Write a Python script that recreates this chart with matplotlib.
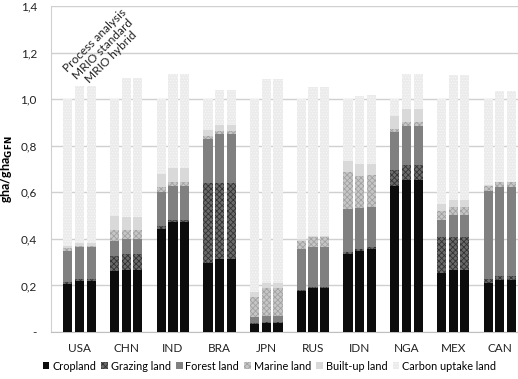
import numpy as np
import matplotlib.pyplot as plt
from matplotlib.ticker import FixedLocator, FixedFormatter

plt.rcParams['font.family'] = ['Lato', 'DejaVu Sans']
plt.rcParams['hatch.linewidth'] = 0.6

countries = ['USA', 'CHN', 'IND', 'BRA', 'JPN', 'RUS', 'IDN', 'NGA', 'MEX', 'CAN']
methods = ['Process analysis', 'MRIO standard', 'MRIO hybrid']
land_types = ['Cropland', 'Grazing land', 'Forest land', 'Marine land',
              'Built-up land', 'Carbon uptake land']

# rows: process analysis, MRIO standard, MRIO hybrid
cropland = [[0.205, 0.260, 0.444, 0.298, 0.036, 0.178, 0.337, 0.628, 0.252, 0.209],
            [0.218, 0.267, 0.472, 0.315, 0.040, 0.191, 0.350, 0.654, 0.265, 0.222],
            [0.218, 0.267, 0.472, 0.315, 0.040, 0.191, 0.356, 0.654, 0.265, 0.222]]
grazing = [[0.011, 0.067, 0.012, 0.341, 0.003, 0.003, 0.006, 0.066, 0.155, 0.019],
           [0.010, 0.068, 0.010, 0.324, 0.003, 0.003, 0.006, 0.064, 0.141, 0.019],
           [0.010, 0.068, 0.010, 0.324, 0.003, 0.003, 0.007, 0.064, 0.141, 0.019]]
forest = [[0.132, 0.064, 0.144, 0.190, 0.026, 0.175, 0.185, 0.165, 0.072, 0.378],
          [0.135, 0.064, 0.146, 0.211, 0.026, 0.173, 0.177, 0.168, 0.096, 0.380],
          [0.135, 0.064, 0.146, 0.211, 0.026, 0.173, 0.176, 0.168, 0.096, 0.380]]
marine = [[0.012, 0.049, 0.022, 0.011, 0.085, 0.035, 0.160, 0.013, 0.041, 0.023],
          [0.008, 0.040, 0.017, 0.012, 0.120, 0.040, 0.138, 0.014, 0.037, 0.023],
          [0.008, 0.040, 0.017, 0.012, 0.120, 0.040, 0.136, 0.014, 0.037, 0.023]]
builtup = [[0.010, 0.060, 0.058, 0.029, 0.023, 0.008, 0.047, 0.057, 0.031, 0.003],
           [0.010, 0.057, 0.060, 0.025, 0.022, 0.007, 0.049, 0.058, 0.029, 0.002],
           [0.010, 0.057, 0.060, 0.025, 0.022, 0.007, 0.046, 0.058, 0.029, 0.002]]
carbon = [[0.630, 0.500, 0.320, 0.131, 0.827, 0.601, 0.265, 0.071, 0.449, 0.368],
          [0.674, 0.594, 0.405, 0.151, 0.877, 0.638, 0.295, 0.152, 0.537, 0.388],
          [0.674, 0.594, 0.405, 0.151, 0.877, 0.638, 0.298, 0.152, 0.537, 0.388]]

yticks = [0, 0.2, 0.4, 0.6, 0.8, 1.0, 1.2, 1.4]
ytick_labels = ['-', '0,2', '0,4', '0,6', '0,8', '1,0', '1,2', '1,4']

# face, hatch colour, hatch
styles = [('#0c0c0c', '#0c0c0c', None),
          ('#6a6a6a', '#333333', 'xxxxxx'),
          ('#808080', '#808080', None),
          ('#c6c6c6', '#a2a2a2', 'xxxxxx'),
          ('#d9d9d9', '#d9d9d9', None),
          ('#ebebeb', '#f7f7f7', '......')]

fig = plt.figure(figsize=(5.18, 3.79), dpi=100)
ax = fig.add_axes([0.098, 0.124, 0.902, 0.86])

series = [cropland, grazing, forest, marine, builtup, carbon]
x = np.arange(len(countries))
offsets = [-0.25, 0.0, 0.25]
width = 0.195

for m in range(3):
    bottom = np.zeros(len(countries))
    for k, data in enumerate(series):
        vals = np.array(data[m])
        face, hc, hatch = styles[k]
        ax.bar(x + offsets[m], vals, width, bottom=bottom, color=face,
               edgecolor=hc, hatch=hatch, linewidth=0,
               label=land_types[k] if m == 0 else None, zorder=3)
        bottom += vals

# method labels above the first group (one centred block, rotated)
ax.text(x[0] + 0.5, 1.215, '\n'.join(methods), rotation=45,
        rotation_mode='anchor', ha='center', va='center', multialignment='center',
        linespacing=1.12, fontsize=8.6, color='#222222')

ax.set_xlim(-0.617, 9.39)
ax.set_ylim(0, 1.4)
ax.yaxis.set_major_locator(FixedLocator(yticks))
ax.yaxis.set_major_formatter(FixedFormatter(ytick_labels))
ax.set_xticks(x)
ax.set_xticklabels(countries)
ax.tick_params(axis='both', length=0, labelsize=8.5, colors='#222222')
ax.tick_params(axis='x', pad=8)
ax.tick_params(axis='y', pad=10)
ax.grid(axis='y', color='#d0d0d0', linewidth=1, zorder=0)
for s in ['top', 'right']:
    ax.spines[s].set_visible(False)
ax.spines['left'].set_color('#d0d0d0')
ax.spines['bottom'].set_color('#bfbfbf')

ax.set_ylabel('gha/gha$_{\\mathbf{GFN}}$', fontsize=9, fontweight='bold',
              labelpad=4)

fig.legend(loc='center', bbox_to_anchor=(0.52, 0.034), ncol=6, frameon=False,
           fontsize=7.8, handlelength=0.6, handleheight=0.6, handletextpad=0.25,
           columnspacing=0.5, borderaxespad=0)

fig.savefig('out.png', dpi=100)
